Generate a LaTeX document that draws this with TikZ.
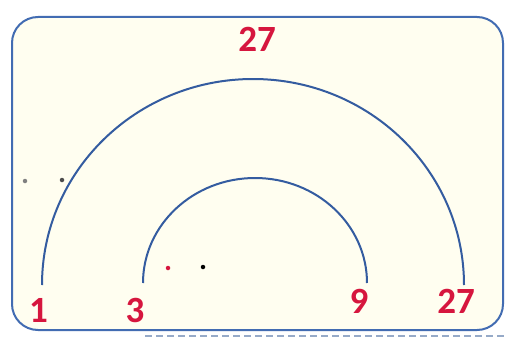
\documentclass[tikz,border=0pt]{standalone}
\usepackage{fontspec}
\setmainfont{Carlito}
\definecolor{frameblue}{RGB}{66,108,178}
\definecolor{arcblue}{RGB}{52,92,160}
\definecolor{numred}{RGB}{214,22,62}
\definecolor{cream}{RGB}{255,254,240}
\definecolor{dashgray}{RGB}{150,170,200}
\begin{document}
\begin{tikzpicture}[x=1pt,y=-1pt,
  num/.style={text=numred,font=\fontsize{37}{37}\selectfont\bfseries,inner sep=0pt,anchor=base},
  arcline/.style={draw=arcblue,line width=2pt},
  speck/.style={circle,inner sep=0pt,minimum size=4.5pt}]
\useasboundingbox (0,0) rectangle (508,337);
\fill[white] (0,0) rectangle (508,337);
\draw[draw=frameblue,fill=cream,line width=2pt,rounded corners=26pt] (12,17) rectangle (503,330);
\draw[dashgray,line width=2pt,dash pattern=on 7pt off 4pt] (145,336) -- (508,336);
% arcs
\coordinate (bigL) at (42,285);
\coordinate (smallL) at (143,283);
\draw[arcline] (bigL) arc[start angle=180,end angle=0,x radius=211,y radius=-206];
\draw[arcline] (smallL) arc[start angle=180,end angle=0,x radius=112,y radius=-105];
% labels
\node[num] (top27) at (257,52) {27};
\node[num] (n1) at (38.5,322) {1};
\node[num] (n3) at (135,322) {3};
\node[num] (n9) at (359,313) {9};
\node[num] (n27) at (456,313) {27};
% specks
\node[speck,fill=gray] (d1) at (25,181) {};
\node[speck,fill=black!70] (d2) at (62,180) {};
\node[speck,fill=numred] (d3) at (168,268) {};
\node[speck,fill=black] (d4) at (203,267) {};
\end{tikzpicture}
\end{document}
